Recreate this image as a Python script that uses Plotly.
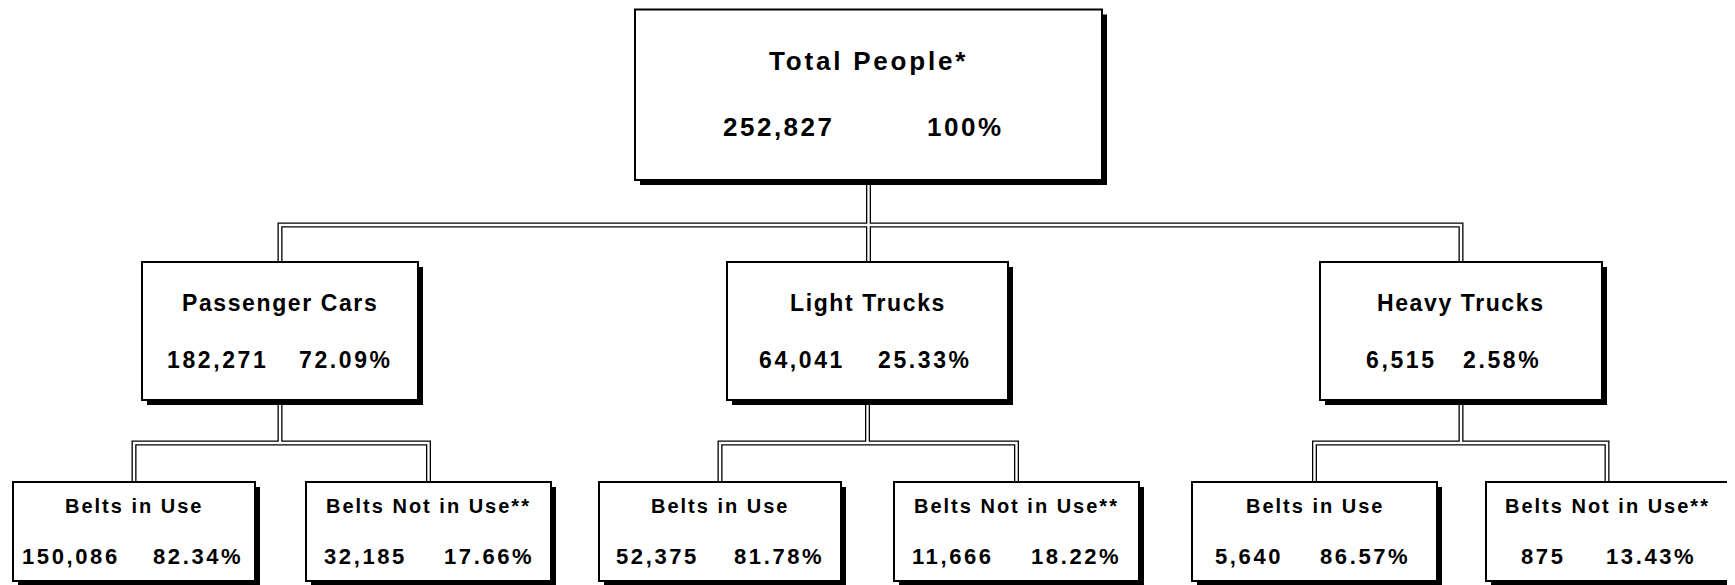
import plotly.graph_objects as go

# ---- data ----
total_label = "Total People*"
total_people = 252827
total_pct = 100

vehicle_types = ["Passenger Cars", "Light Trucks", "Heavy Trucks"]
vehicle_people = [182271, 64041, 6515]
vehicle_pct = [72.09, 25.33, 2.58]

belt_status = ["Belts in Use", "Belts Not in Use**"]
belt_people = [[150086, 32185], [52375, 11666], [5640, 875]]
belt_pct = [[82.34, 17.66], [81.78, 18.22], [86.57, 13.43]]

# ---- layout geometry (page pixels; the page body adds an 8px offset) ----
W, H = 1735, 585
PAGE_OFF = 8
top_box = (635, 1102, 9.5, 180)
mid_x0 = [142, 727, 1320]
mid_x1 = [418, 1008, 1602]
mid_y = (262, 400)
bot_x0 = [13, 306, 599, 894, 1192, 1486]
bot_x1 = [255, 551, 841, 1139, 1437, 1728]
bot_y = (482, 581)
trunk_y = 225      # horizontal under the top box
branch_y = 443     # horizontal under each vehicle box

# text rows (y) and number / percent offsets from box centre
top_rows = (61, 127)
mid_rows = (303, 360)
bot_rows = (506, 556)
top_dx = (-90, 97)
mid_dx = [(-63, 66), (-66, 57), (-60, 41)]
bot_dx = [(-63, 64), (-63, 60), (-63, 59), (-64, 59), (-66, 50), (-64, 44)]

FONT = "Arial, 'Liberation Sans', sans-serif"
SHADOW = 5


def fmt_pct(p):
    return "100%" if p == 100 else f"{p:.2f}%"


def spaced(s, ls):
    return f"<span style='letter-spacing:{ls}px'>{s}</span>"


fig = go.Figure()
shapes = []
annotations = []

# connectors: thick black stroke with a thin white stroke on top -> double line
paths = []
mid_cx = [(a + b) / 2 for a, b in zip(mid_x0, mid_x1)]
bot_cx = [(a + b) / 2 for a, b in zip(bot_x0, bot_x1)]
top_cx = (top_box[0] + top_box[1]) / 2
paths.append(f"M{mid_cx[0]},{mid_y[0]} L{mid_cx[0]},{trunk_y} L{mid_cx[2]},{trunk_y} L{mid_cx[2]},{mid_y[0]}")
paths.append(f"M{top_cx},{top_box[3]} L{top_cx},{mid_y[0]}")
for i, cx in enumerate(mid_cx):
    l, r = bot_cx[2 * i], bot_cx[2 * i + 1]
    paths.append(f"M{l},{bot_y[0]} L{l},{branch_y} L{r},{branch_y} L{r},{bot_y[0]}")
    paths.append(f"M{cx},{mid_y[1]} L{cx},{branch_y}")

for p in paths:
    shapes.append(dict(type="path", path=p, xref="x", yref="y", line=dict(color="black", width=5)))
for p in paths:
    shapes.append(dict(type="path", path=p, xref="x", yref="y", line=dict(color="white", width=2.4)))


def add_box(x0, x1, y0, y1):
    shapes.append(dict(type="rect", x0=x0 + SHADOW, x1=x1 + SHADOW, y0=y0 + SHADOW, y1=y1 + SHADOW,
                       xref="x", yref="y", fillcolor="black", line=dict(width=0)))
    shapes.append(dict(type="rect", x0=x0, x1=x1, y0=y0, y1=y1, xref="x", yref="y",
                       fillcolor="white", line=dict(color="black", width=2)))


def add_text(x, y, s, size, ls):
    annotations.append(dict(x=x, y=y, xref="x", yref="y", text=spaced(s, ls), showarrow=False,
                            xanchor="center", yanchor="middle",
                            font=dict(family=FONT, size=size, color="black", weight="bold")))


# top node
add_box(*top_box)
add_text(top_cx, top_rows[0], total_label, 26, 2.8)
add_text(top_cx + top_dx[0], top_rows[1], f"{total_people:,}", 26, 2.5)
add_text(top_cx + top_dx[1], top_rows[1], fmt_pct(total_pct), 26, 2.5)

# vehicle nodes
for i, name in enumerate(vehicle_types):
    add_box(mid_x0[i], mid_x1[i], *mid_y)
    cx = mid_cx[i]
    add_text(cx, mid_rows[0], name, 23, 1.6)
    add_text(cx + mid_dx[i][0], mid_rows[1], f"{vehicle_people[i]:,}", 23, 2.6)
    add_text(cx + mid_dx[i][1], mid_rows[1], fmt_pct(vehicle_pct[i]), 23, 2.6)

# belt nodes
for i in range(len(vehicle_types)):
    for j, status in enumerate(belt_status):
        k = 2 * i + j
        add_box(bot_x0[k], bot_x1[k], *bot_y)
        cx = bot_cx[k]
        add_text(cx, bot_rows[0], status, 20, 2)
        add_text(cx + bot_dx[k][0], bot_rows[1], f"{belt_people[i][j]:,}", 22, 2.6)
        add_text(cx + bot_dx[k][1], bot_rows[1], fmt_pct(belt_pct[i][j]), 22, 2.6)

fig.update_layout(
    width=W, height=H,
    margin=dict(l=0, r=0, t=0, b=0),
    paper_bgcolor="white", plot_bgcolor="white",
    xaxis=dict(range=[PAGE_OFF, W + PAGE_OFF], visible=False, fixedrange=True),
    yaxis=dict(range=[H + PAGE_OFF, PAGE_OFF], visible=False, fixedrange=True),
    shapes=shapes, annotations=annotations,
    showlegend=False,
)

fig.write_html("out.html", config={"displayModeBar": False})
